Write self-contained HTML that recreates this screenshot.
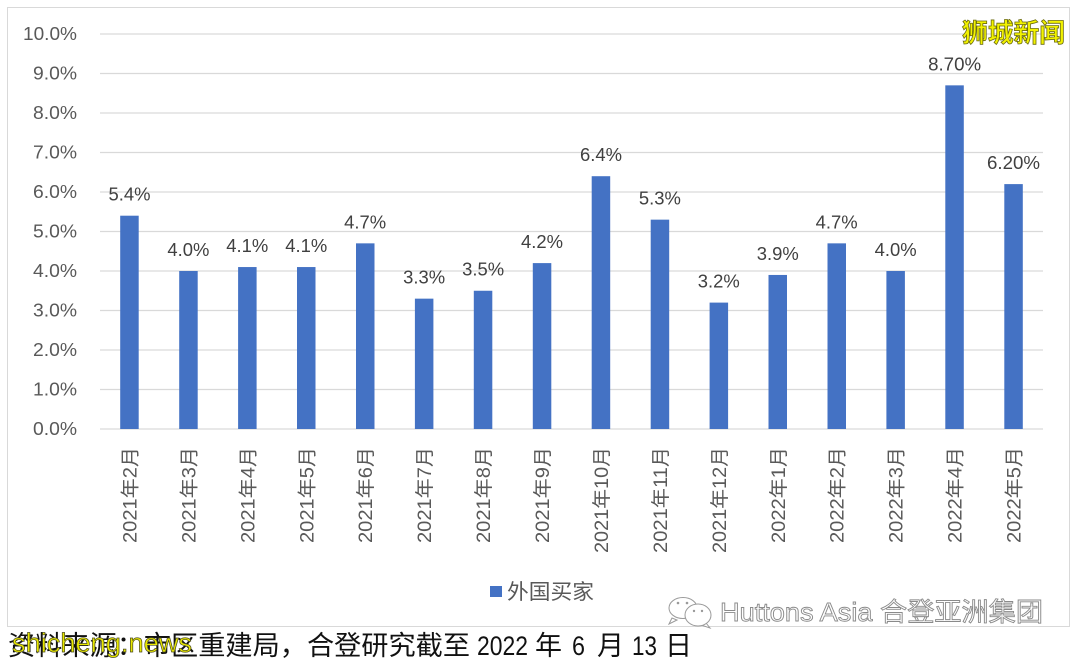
<!DOCTYPE html>
<html><head><meta charset="utf-8"><style>
html,body{margin:0;padding:0;background:#fff;}
svg{display:block;}
text{font-family:"Liberation Sans","Noto Sans CJK SC",sans-serif;}
</style></head><body>
<svg width="1080" height="660" viewBox="0 0 1080 660" xmlns="http://www.w3.org/2000/svg">
<rect x="0" y="0" width="1080" height="660" fill="#fff"/>
<rect x="7.5" y="7.5" width="1062" height="619" fill="#fff" stroke="#d9d9d9" stroke-width="1"/>
<g stroke="#d9d9d9" stroke-width="1.3">
<line x1="100" y1="429" x2="1043" y2="429"/>
<line x1="100" y1="389.5" x2="1043" y2="389.5"/>
<line x1="100" y1="350" x2="1043" y2="350"/>
<line x1="100" y1="310.5" x2="1043" y2="310.5"/>
<line x1="100" y1="271" x2="1043" y2="271"/>
<line x1="100" y1="231.5" x2="1043" y2="231.5"/>
<line x1="100" y1="192" x2="1043" y2="192"/>
<line x1="100" y1="152.5" x2="1043" y2="152.5"/>
<line x1="100" y1="113" x2="1043" y2="113"/>
<line x1="100" y1="73.5" x2="1043" y2="73.5"/>
<line x1="100" y1="34" x2="1043" y2="34"/>
</g>
<g fill="#595959" font-size="18">
<text x="33" y="435" textLength="44" lengthAdjust="spacingAndGlyphs">0.0%</text>
<text x="33" y="395.5" textLength="44" lengthAdjust="spacingAndGlyphs">1.0%</text>
<text x="33" y="356" textLength="44" lengthAdjust="spacingAndGlyphs">2.0%</text>
<text x="33" y="316.5" textLength="44" lengthAdjust="spacingAndGlyphs">3.0%</text>
<text x="33" y="277" textLength="44" lengthAdjust="spacingAndGlyphs">4.0%</text>
<text x="33" y="237.5" textLength="44" lengthAdjust="spacingAndGlyphs">5.0%</text>
<text x="33" y="198" textLength="44" lengthAdjust="spacingAndGlyphs">6.0%</text>
<text x="33" y="158.5" textLength="44" lengthAdjust="spacingAndGlyphs">7.0%</text>
<text x="33" y="119" textLength="44" lengthAdjust="spacingAndGlyphs">8.0%</text>
<text x="33" y="79.5" textLength="44" lengthAdjust="spacingAndGlyphs">9.0%</text>
<text x="23" y="40" textLength="54" lengthAdjust="spacingAndGlyphs">10.0%</text>
</g>
<g fill="#4472C4">
<rect x="120.2" y="215.7" width="18.5" height="213.3"/>
<rect x="179.2" y="271" width="18.5" height="158"/>
<rect x="238.1" y="267.05" width="18.5" height="161.95"/>
<rect x="297.0" y="267.05" width="18.5" height="161.95"/>
<rect x="356.0" y="243.35" width="18.5" height="185.65"/>
<rect x="414.9" y="298.65" width="18.5" height="130.35"/>
<rect x="473.8" y="290.75" width="18.5" height="138.25"/>
<rect x="532.8" y="263.1" width="18.5" height="165.9"/>
<rect x="591.7" y="176.2" width="18.5" height="252.8"/>
<rect x="650.7" y="219.65" width="18.5" height="209.35"/>
<rect x="709.6" y="302.6" width="18.5" height="126.4"/>
<rect x="768.5" y="274.95" width="18.5" height="154.05"/>
<rect x="827.5" y="243.35" width="18.5" height="185.65"/>
<rect x="886.4" y="271" width="18.5" height="158"/>
<rect x="945.3" y="85.35" width="18.5" height="343.65"/>
<rect x="1004.3" y="184.1" width="18.5" height="244.9"/>
</g>
<g fill="#404040" font-size="18">
<text x="108.5" y="200.7" textLength="42" lengthAdjust="spacingAndGlyphs">5.4%</text>
<text x="167.4" y="256" textLength="42" lengthAdjust="spacingAndGlyphs">4.0%</text>
<text x="226.3" y="252" textLength="42" lengthAdjust="spacingAndGlyphs">4.1%</text>
<text x="285.3" y="252" textLength="42" lengthAdjust="spacingAndGlyphs">4.1%</text>
<text x="344.2" y="228.3" textLength="42" lengthAdjust="spacingAndGlyphs">4.7%</text>
<text x="403.2" y="283.6" textLength="42" lengthAdjust="spacingAndGlyphs">3.3%</text>
<text x="462.1" y="275.7" textLength="42" lengthAdjust="spacingAndGlyphs">3.5%</text>
<text x="521.0" y="248.1" textLength="42" lengthAdjust="spacingAndGlyphs">4.2%</text>
<text x="580.0" y="161.2" textLength="42" lengthAdjust="spacingAndGlyphs">6.4%</text>
<text x="638.9" y="204.6" textLength="42" lengthAdjust="spacingAndGlyphs">5.3%</text>
<text x="697.8" y="287.6" textLength="42" lengthAdjust="spacingAndGlyphs">3.2%</text>
<text x="756.8" y="259.9" textLength="42" lengthAdjust="spacingAndGlyphs">3.9%</text>
<text x="815.7" y="228.3" textLength="42" lengthAdjust="spacingAndGlyphs">4.7%</text>
<text x="874.7" y="256" textLength="42" lengthAdjust="spacingAndGlyphs">4.0%</text>
<text x="928.1" y="70.3" textLength="53" lengthAdjust="spacingAndGlyphs">8.70%</text>
<text x="987.0" y="169.1" textLength="53" lengthAdjust="spacingAndGlyphs">6.20%</text>
</g>
<g fill="#595959" font-size="19">
<text transform="translate(136.5,543) rotate(-90)" textLength="96" lengthAdjust="spacingAndGlyphs">2021年2月</text>
<text transform="translate(195.4,543) rotate(-90)" textLength="96" lengthAdjust="spacingAndGlyphs">2021年3月</text>
<text transform="translate(254.3,543) rotate(-90)" textLength="96" lengthAdjust="spacingAndGlyphs">2021年4月</text>
<text transform="translate(313.3,543) rotate(-90)" textLength="96" lengthAdjust="spacingAndGlyphs">2021年5月</text>
<text transform="translate(372.2,543) rotate(-90)" textLength="96" lengthAdjust="spacingAndGlyphs">2021年6月</text>
<text transform="translate(431.2,543) rotate(-90)" textLength="96" lengthAdjust="spacingAndGlyphs">2021年7月</text>
<text transform="translate(490.1,543) rotate(-90)" textLength="96" lengthAdjust="spacingAndGlyphs">2021年8月</text>
<text transform="translate(549.0,543) rotate(-90)" textLength="96" lengthAdjust="spacingAndGlyphs">2021年9月</text>
<text transform="translate(608.0,553) rotate(-90)" textLength="106" lengthAdjust="spacingAndGlyphs">2021年10月</text>
<text transform="translate(666.9,553) rotate(-90)" textLength="106" lengthAdjust="spacingAndGlyphs">2021年11月</text>
<text transform="translate(725.8,553) rotate(-90)" textLength="106" lengthAdjust="spacingAndGlyphs">2021年12月</text>
<text transform="translate(784.8,543) rotate(-90)" textLength="96" lengthAdjust="spacingAndGlyphs">2022年1月</text>
<text transform="translate(843.7,543) rotate(-90)" textLength="96" lengthAdjust="spacingAndGlyphs">2022年2月</text>
<text transform="translate(902.7,543) rotate(-90)" textLength="96" lengthAdjust="spacingAndGlyphs">2022年3月</text>
<text transform="translate(961.6,543) rotate(-90)" textLength="96" lengthAdjust="spacingAndGlyphs">2022年4月</text>
<text transform="translate(1020.5,543) rotate(-90)" textLength="96" lengthAdjust="spacingAndGlyphs">2022年5月</text>
</g>
<rect x="490" y="586" width="12" height="11" fill="#4472C4"/>
<text x="507" y="599" font-size="21" fill="#595959" textLength="87" lengthAdjust="spacingAndGlyphs">外国买家</text>
<!-- wechat icon -->
<g fill="#fff" stroke="#9a9a9a" stroke-width="1">
<path d="M672,618 L669,624 L677,620 Z"/>
<ellipse cx="683" cy="608" rx="14" ry="10.5"/>
<path d="M706,623 L710,628 L701,625 Z"/>
<ellipse cx="698" cy="615" rx="13" ry="11"/>
</g>
<g fill="#9a9a9a">
<circle cx="678" cy="603" r="1.3"/><circle cx="687" cy="603" r="1.3"/>
<circle cx="694" cy="611" r="1.2"/><circle cx="702" cy="611" r="1.2"/>
</g>
<text x="720" y="621" font-size="26" fill="#fff" stroke="#8a8a8a" stroke-width="0.9" textLength="323" lengthAdjust="spacingAndGlyphs">Huttons Asia 合登亚洲集团</text>
<!-- bottom source text -->
<g fill="#111" font-size="27">
<text x="8" y="655" textLength="462" lengthAdjust="spacingAndGlyphs">资料来源：市区重建局，合登研究截至</text>
<text x="477" y="655" textLength="51" lengthAdjust="spacingAndGlyphs">2022</text>
<text x="535" y="655">年</text>
<text x="572" y="655" textLength="13" lengthAdjust="spacingAndGlyphs">6</text>
<text x="597" y="655">月</text>
<text x="632" y="655" textLength="25" lengthAdjust="spacingAndGlyphs">13</text>
<text x="665" y="655">日</text>
</g>
<text x="12" y="652" font-size="27" fill="#e8e800" stroke="#4a4a20" stroke-width="0.7" textLength="180" lengthAdjust="spacingAndGlyphs">shicheng.news</text>
<text x="962" y="42" font-size="26" font-weight="bold" fill="#f2f200" stroke="#6b6b10" stroke-width="0.8" textLength="103" lengthAdjust="spacingAndGlyphs">狮城新闻</text>
</svg>
</body></html>
